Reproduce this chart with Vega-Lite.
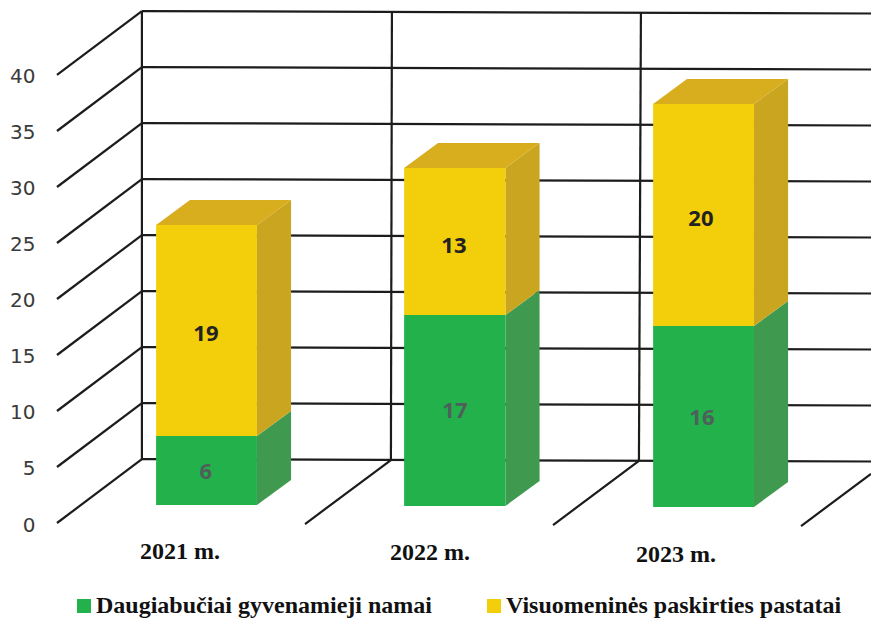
{
"$schema":"https://vega.github.io/schema/vega-lite/v6.json",
"width":814,"height":523,
"autosize":{"type":"none"},
"padding":{"left":57,"top":0,"right":0,"bottom":95},
"background":"white",
"config":{"view":{"stroke":null}},
"datasets":{
"grid":[
{"x":0,"y":0,"x2":0.341,"y2":5.71},{"x":0,"y":5,"x2":0.341,"y2":10.71},{"x":0,"y":10,"x2":0.341,"y2":15.71},{"x":0,"y":15,"x2":0.341,"y2":20.71},{"x":0,"y":20,"x2":0.341,"y2":25.71},{"x":0,"y":25,"x2":0.341,"y2":30.71},{"x":0,"y":30,"x2":0.341,"y2":35.71},{"x":0,"y":35,"x2":0.341,"y2":40.71},{"x":0,"y":40,"x2":0.341,"y2":45.71},
{"x":0.341,"y":5.71,"x2":3.269,"y2":5.49},{"x":0.341,"y":10.71,"x2":3.269,"y2":10.49},{"x":0.341,"y":15.71,"x2":3.269,"y2":15.49},{"x":0.341,"y":20.71,"x2":3.269,"y2":20.49},{"x":0.341,"y":25.71,"x2":3.269,"y2":25.49},{"x":0.341,"y":30.71,"x2":3.269,"y2":30.49},{"x":0.341,"y":35.71,"x2":3.269,"y2":35.49},{"x":0.341,"y":40.71,"x2":3.269,"y2":40.49},{"x":0.341,"y":45.71,"x2":3.269,"y2":45.49},
{"x":0.341,"y":5.71,"x2":0.341,"y2":45.71},{"x":1.341,"y":5.62,"x2":1.345,"y2":45.62},{"x":2.337,"y":5.54,"x2":2.345,"y2":45.54},
{"x":0.996,"y":-0.09,"x2":1.341,"y2":5.62},{"x":1.992,"y":-0.18,"x2":2.337,"y2":5.54},{"x":2.988,"y":-0.27,"x2":3.269,"y2":4.38}
],
"front":[
{"year":"2021 m.","series":"Daugiabučiai gyvenamieji namai","value":6,"left":0.398,"right":0.803,"low":1.61,"high":7.77,"mx":0.598,"my":4.55},
{"year":"2021 m.","series":"Visuomeninės paskirties pastatai","value":19,"left":0.398,"right":0.803,"low":7.77,"high":26.61,"mx":0.598,"my":16.9},
{"year":"2022 m.","series":"Daugiabučiai gyvenamieji namai","value":17,"left":1.394,"right":1.801,"low":1.52,"high":18.57,"mx":1.598,"my":10},
{"year":"2022 m.","series":"Visuomeninės paskirties pastatai","value":13,"left":1.394,"right":1.801,"low":18.57,"high":31.7,"mx":1.594,"my":24.7},
{"year":"2023 m.","series":"Daugiabučiai gyvenamieji namai","value":16,"left":2.394,"right":2.799,"low":1.43,"high":17.59,"mx":2.59,"my":9.36},
{"year":"2023 m.","series":"Visuomeninės paskirties pastatai","value":20,"left":2.394,"right":2.799,"low":17.59,"high":37.41,"mx":2.586,"my":27.1}
],
"side":[
{"year":"2021 m.","series":"g","x":0.803,"y":1.61,"y2":7.77},{"year":"2021 m.","series":"g","x":0.94,"y":3.84,"y2":10},
{"year":"2021 m.","series":"y","x":0.803,"y":7.77,"y2":26.61},{"year":"2021 m.","series":"y","x":0.94,"y":10,"y2":28.84},
{"year":"2022 m.","series":"g","x":1.801,"y":1.52,"y2":18.57},{"year":"2022 m.","series":"g","x":1.938,"y":3.75,"y2":20.8},
{"year":"2022 m.","series":"y","x":1.801,"y":18.57,"y2":31.7},{"year":"2022 m.","series":"y","x":1.938,"y":20.8,"y2":33.93},
{"year":"2023 m.","series":"g","x":2.799,"y":1.43,"y2":17.59},{"year":"2023 m.","series":"g","x":2.936,"y":3.66,"y2":19.82},
{"year":"2023 m.","series":"y","x":2.799,"y":17.59,"y2":37.41},{"year":"2023 m.","series":"y","x":2.936,"y":19.82,"y2":39.64}
],
"top":[
{"year":"2021 m.","x":0.398,"y":26.61,"y2":26.61},{"year":"2021 m.","x":0.534,"y":28.84,"y2":26.61},{"year":"2021 m.","x":0.803,"y":28.84,"y2":26.61},{"year":"2021 m.","x":0.94,"y":28.84,"y2":28.84},
{"year":"2022 m.","x":1.394,"y":31.7,"y2":31.7},{"year":"2022 m.","x":1.53,"y":33.93,"y2":31.7},{"year":"2022 m.","x":1.801,"y":33.93,"y2":31.7},{"year":"2022 m.","x":1.938,"y":33.93,"y2":33.93},
{"year":"2023 m.","x":2.394,"y":37.41,"y2":37.41},{"year":"2023 m.","x":2.53,"y":39.64,"y2":37.41},{"year":"2023 m.","x":2.799,"y":39.64,"y2":37.41},{"year":"2023 m.","x":2.936,"y":39.64,"y2":39.64}
],
"years":[
{"year":"2021 m.","x":0.494,"y":-2.59},
{"year":"2022 m.","x":1.498,"y":-2.68},
{"year":"2023 m.","x":2.486,"y":-2.86}
]
},
"resolve":{"scale":{"color":"independent"}},
"layer":[
{"data":{"name":"grid"},"mark":{"type":"rule","color":"#1c1c1c","strokeWidth":2.2},
 "encoding":{
  "x":{"field":"x","type":"quantitative","scale":{"domain":[0,3.269],"nice":false,"zero":false},"axis":null},
  "x2":{"field":"x2"},
  "y":{"field":"y","type":"quantitative","scale":{"domain":[0,46.696],"nice":false,"zero":false},"axis":{"title":null,"values":[0,5,10,15,20,25,30,35,40],"grid":false,"domain":false,"ticks":false,"labelPadding":22,"labelOffset":2,"labelFont":"DejaVu Sans","labelFontSize":20,"labelColor":"#3a3a3a"}},
  "y2":{"field":"y2"}}},
{"data":{"name":"side"},"mark":{"type":"area","interpolate":"linear","clip":false},
 "encoding":{
  "x":{"field":"x","type":"quantitative","axis":null},
  "y":{"field":"y","type":"quantitative","title":null},
  "y2":{"field":"y2"},
  "detail":{"field":"year"},
  "color":{"field":"series","type":"nominal","legend":null,"scale":{"domain":["g","y"],"range":["#3F9A50","#C9A520"]}}}},
{"data":{"name":"top"},"mark":{"type":"area","interpolate":"linear","color":"#D8AE1E"},
 "encoding":{
  "x":{"field":"x","type":"quantitative","axis":null},
  "y":{"field":"y","type":"quantitative","title":null},
  "y2":{"field":"y2"},
  "detail":{"field":"year"}}},
{"data":{"name":"front"},"mark":{"type":"rect"},
 "encoding":{
  "x":{"field":"left","type":"quantitative","axis":null},
  "x2":{"field":"right"},
  "y":{"field":"low","type":"quantitative","title":null},
  "y2":{"field":"high"},
  "color":{"field":"series","type":"nominal","scale":{"domain":["Daugiabučiai gyvenamieji namai","Visuomeninės paskirties pastatai"],"range":["#22B14A","#F3CE0A"]},
   "legend":{"title":null,"orient":"none","legendX":15,"legendY":594,"direction":"horizontal","columns":2,"symbolType":"square","symbolSize":196,"symbolStrokeWidth":0,"labelFont":"Liberation Serif","labelFontWeight":"bold","labelFontSize":24,"labelColor":"#111111","labelLimit":500,"labelOffset":0,"columnPadding":49,"padding":0}}}},
{"data":{"name":"front"},"mark":{"type":"text","font":"Noto Sans","fontWeight":"bold","fontSize":22,"align":"center","baseline":"middle"},
 "encoding":{
  "x":{"field":"mx","type":"quantitative","axis":null},
  "y":{"field":"my","type":"quantitative","title":null},
  "text":{"field":"value","type":"quantitative"},
  "color":{"field":"series","type":"nominal","legend":null,"scale":{"domain":["Daugiabučiai gyvenamieji namai","Visuomeninės paskirties pastatai"],"range":["#4E5F5C","#222222"]}}}},
{"data":{"name":"years"},"mark":{"type":"text","font":"Liberation Serif","fontWeight":"bold","fontSize":24,"align":"center","baseline":"middle","color":"#111111"},
 "encoding":{
  "x":{"field":"x","type":"quantitative","axis":null},
  "y":{"field":"y","type":"quantitative","title":null},
  "text":{"field":"year","type":"nominal"}}}
]
}
